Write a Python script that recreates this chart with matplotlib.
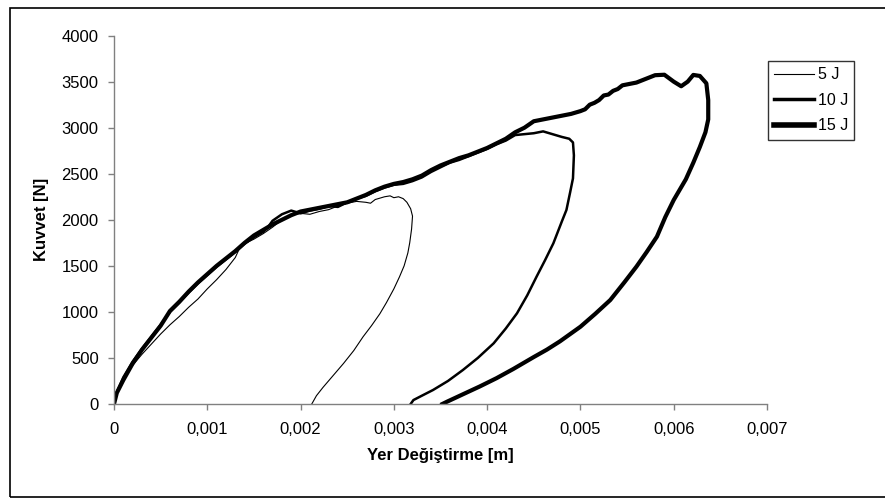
import matplotlib
matplotlib.use("Agg")
import matplotlib.pyplot as plt
from matplotlib.patches import Rectangle

plt.rcParams['font.family'] = ['Liberation Sans', 'DejaVu Sans']

# --- Force-displacement data for the three impact energies ---
labels = ["5 J", "10 J", "15 J"]

disp_5j = [0, 0.00003, 0.00008, 0.00013, 0.0002, 0.0003, 0.0004, 0.0005, 0.0006,
           0.0007, 0.0008, 0.0009, 0.001, 0.0011, 0.0012, 0.0013, 0.00135, 0.0014,
           0.0015, 0.0016, 0.0017, 0.0018, 0.0019, 0.002, 0.0021, 0.0022, 0.0023,
           0.0024, 0.0025, 0.0026, 0.0027, 0.00275, 0.0028, 0.0029, 0.00296, 0.003,
           0.00305, 0.0031, 0.00314, 0.00318, 0.0032, 0.00319, 0.00317, 0.00315,
           0.00311, 0.00306, 0.003, 0.00292, 0.00285, 0.00276, 0.00267, 0.00257,
           0.00246, 0.00235, 0.00224, 0.00217, 0.00212]
force_5j = [0, 100, 230, 330, 420, 540, 650, 760, 860, 950, 1050, 1140, 1250,
            1350, 1460, 1590, 1700, 1740, 1790, 1850, 1920, 2000, 2050, 2070, 2060,
            2090, 2110, 2150, 2180, 2200, 2190, 2180, 2220, 2250, 2260, 2240, 2250,
            2230, 2190, 2120, 2040, 1900, 1750, 1640, 1500, 1380, 1250, 1100, 980,
            850, 730, 580, 440, 310, 180, 90, 0]

disp_10j = [0, 0.00003, 0.0001, 0.0002, 0.0003, 0.0004, 0.0005, 0.0006, 0.0007,
            0.0008, 0.0009, 0.001, 0.0011, 0.0012, 0.0013, 0.0014, 0.0015, 0.0016,
            0.00165, 0.0017, 0.0018, 0.0019, 0.00195, 0.002, 0.0021, 0.0022, 0.0023,
            0.0024, 0.0025, 0.0026, 0.0027, 0.0028, 0.0029, 0.003, 0.0031, 0.0032,
            0.0033, 0.0034, 0.0035, 0.0036, 0.0037, 0.0038, 0.0039, 0.004, 0.0041,
            0.0042, 0.0043, 0.0044, 0.0045, 0.0046, 0.0047, 0.0048, 0.00488,
            0.00492, 0.00493, 0.00492, 0.00489, 0.00485, 0.0048, 0.00471, 0.00462,
            0.00453, 0.00443, 0.00432, 0.0042, 0.00407, 0.0039, 0.00374, 0.00358,
            0.00342, 0.0033, 0.00321, 0.00318]
force_10j = [0, 130, 290, 460, 600, 730, 860, 1000, 1100, 1210, 1310, 1400, 1490,
             1570, 1650, 1740, 1810, 1870, 1920, 1990, 2060, 2100, 2085, 2070, 2100,
             2120, 2150, 2140, 2190, 2230, 2260, 2310, 2350, 2380, 2390, 2420, 2460,
             2520, 2570, 2620, 2650, 2690, 2730, 2770, 2820, 2860, 2920, 2930, 2940,
             2960, 2930, 2900, 2880, 2840, 2700, 2450, 2300, 2107, 1980, 1745, 1560,
             1383, 1180, 985, 820, 659, 500, 369, 250, 152, 90, 43, 0]

disp_15j = [0, 0.00003, 0.0001, 0.0002, 0.0003, 0.0004, 0.0005, 0.0006, 0.0007,
            0.0008, 0.0009, 0.001, 0.0011, 0.0012, 0.0013, 0.0014, 0.0015, 0.0016,
            0.0017, 0.0018, 0.0019, 0.002, 0.0021, 0.0022, 0.0023, 0.0024, 0.0025,
            0.0026, 0.0027, 0.0028, 0.0029, 0.003, 0.0031, 0.0032, 0.0033, 0.0034,
            0.0035, 0.0036, 0.0037, 0.0038, 0.0039, 0.004, 0.0041, 0.0042, 0.0043,
            0.0044, 0.0045, 0.0046, 0.0047, 0.0048, 0.0049, 0.005, 0.00505, 0.0051,
            0.00515, 0.0052, 0.00525, 0.0053, 0.00535, 0.0054, 0.00545, 0.0055,
            0.0056, 0.0057, 0.0058, 0.0059, 0.006, 0.00608, 0.00615, 0.00621,
            0.00628, 0.00635, 0.00637, 0.00637, 0.00634, 0.00628, 0.00621, 0.00613,
            0.006, 0.00591, 0.00582, 0.00571, 0.0056, 0.00547, 0.00532, 0.00516,
            0.005, 0.00478, 0.00464, 0.0045, 0.00428, 0.0041, 0.00392, 0.00375,
            0.00357, 0.00352]
force_15j = [0, 120, 260, 440, 590, 720, 850, 1010, 1110, 1220, 1320, 1410, 1500,
             1580, 1660, 1750, 1830, 1890, 1950, 2000, 2050, 2090, 2110, 2130, 2150,
             2170, 2190, 2230, 2270, 2320, 2360, 2390, 2410, 2440, 2480, 2540, 2590,
             2630, 2670, 2700, 2740, 2780, 2830, 2880, 2950, 3000, 3070, 3090, 3110,
             3130, 3150, 3180, 3200, 3250, 3270, 3300, 3350, 3360, 3400, 3420, 3460,
             3470, 3490, 3530, 3570, 3575, 3500, 3450, 3500, 3573, 3562, 3482, 3300,
             3090, 2950, 2790, 2620, 2440, 2215, 2030, 1817, 1650, 1491, 1320, 1129,
             980, 839, 680, 590, 510, 380, 280, 190, 110, 25, 0]

x_ticks = [0, 0.001, 0.002, 0.003, 0.004, 0.005, 0.006, 0.007]
x_tick_labels = ["0", "0,001", "0,002", "0,003", "0,004", "0,005", "0,006", "0,007"]
y_ticks = [0, 500, 1000, 1500, 2000, 2500, 3000, 3500, 4000]

W, H = 885, 498
fig = plt.figure(figsize=(W / 100, H / 100), dpi=100)
fig.patch.set_facecolor("white")

# chart-area frame
fig.patches.append(Rectangle((10 / W, 1 - 497 / H), 1.0, (497 - 8) / H,
                             transform=fig.transFigure, fill=False,
                             edgecolor="black", linewidth=1.2, clip_on=False))

ax = fig.add_axes([114 / W, 1 - 404 / H, (767 - 114) / W, (404 - 35.6) / H])

ax.plot(disp_5j, force_5j, color="black", lw=0.8, label=labels[0])
ax.plot(disp_10j, force_10j, color="black", lw=1.8, label=labels[1])
ax.plot(disp_15j, force_15j, color="black", lw=3.0, label=labels[2])

ax.set_xlim(0, 0.007)
ax.set_ylim(0, 4000)
ax.set_xticks(x_ticks)
ax.set_xticklabels(x_tick_labels)
ax.set_yticks(y_ticks)
ax.set_yticklabels([str(v) for v in y_ticks])

for side in ("top", "right"):
    ax.spines[side].set_visible(False)
for side in ("left", "bottom"):
    ax.spines[side].set_color("#808080")
    ax.spines[side].set_linewidth(1.0)
ax.tick_params(axis="both", direction="out", length=4, width=1.0,
               color="#808080", labelsize=12, labelcolor="black")
ax.tick_params(axis="y", pad=7)
ax.tick_params(axis="x", pad=9)

ax.set_xlabel("Yer Değiştirme [m]", fontsize=12, fontweight="bold", labelpad=8)
ax.set_ylabel("Kuvvet [N]", fontsize=12, fontweight="bold", labelpad=9)

leg = fig.legend(loc="upper left", bbox_to_anchor=(768 / W, 1 - 61 / H),
                 bbox_transform=fig.transFigure, fontsize=11.5, frameon=True,
                 fancybox=False, edgecolor="black", borderaxespad=0,
                 handlelength=2.5, handletextpad=0.2, labelspacing=0.65,
                 borderpad=0.4)
leg.get_frame().set_linewidth(1.0)
leg.legend_handles[1].set_linewidth(2.5)
leg.legend_handles[2].set_linewidth(4.0)

fig.savefig("out.png", dpi=100, facecolor="white")
